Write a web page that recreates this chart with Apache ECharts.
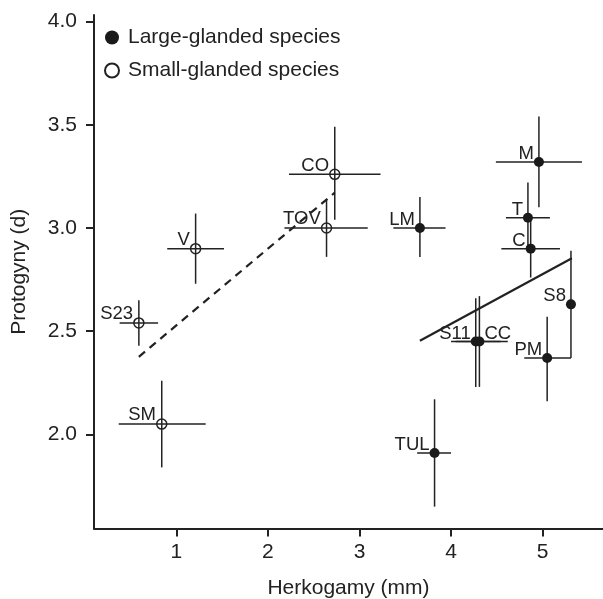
<!DOCTYPE html>
<html>
<head>
<meta charset="utf-8">
<script src="https://cdn.jsdelivr.net/npm/echarts@6/dist/echarts.min.js"></script>
<style>html,body{margin:0;padding:0;background:#fff}#c{width:603px;height:599px}</style>
</head>
<body>
<div id="c"></div>
<script>
// ---- data ----
const largeNames = ['M', 'T', 'C', 'LM', 'S8', 'PM', 'S11', 'CC', 'TUL'];
const largeX     = [4.96, 4.84, 4.87, 3.66, 5.31, 5.05, 4.27, 4.31, 3.82];
const largeY     = [3.32, 3.05, 2.90, 3.00, 2.63, 2.37, 2.45, 2.45, 1.91];
const largeXLo   = [4.49, 4.60, 4.55, 3.37, 5.28, 4.80, 4.00, 4.05, 3.63];
const largeXHi   = [5.43, 5.08, 5.19, 3.94, 5.34, 5.31, 4.54, 4.62, 4.00];
const largeYLo   = [3.10, 2.90, 2.76, 2.86, 2.37, 2.16, 2.23, 2.23, 1.65];
const largeYHi   = [3.54, 3.22, 3.05, 3.15, 2.89, 2.57, 2.66, 2.67, 2.17];

const smallNames = ['CO', 'TOV', 'V', 'S23', 'SM'];
const smallX     = [2.73, 2.64, 1.21, 0.59, 0.84];
const smallY     = [3.26, 3.00, 2.90, 2.54, 2.05];
const smallXLo   = [2.23, 2.18, 0.90, 0.38, 0.37];
const smallXHi   = [3.23, 3.09, 1.52, 0.80, 1.32];
const smallYLo   = [3.04, 2.86, 2.73, 2.43, 1.84];
const smallYHi   = [3.49, 3.14, 3.07, 2.65, 2.26];

const smallFit = [[0.59, 2.376], [2.73, 3.171]];
const largeFit = [[3.66, 2.454], [5.32, 2.853]];

const xTicks = [1, 2, 3, 4, 5];
const yTicks = [2.0, 2.5, 3.0, 3.5, 4.0];

const legendNames = ['Large-glanded species', 'Small-glanded species'];
const xTitle = 'Herkogamy (mm)';
const yTitle = 'Protogyny (d)';

// ---- build ----
const INK = '#222';
const FONT = '"Liberation Sans", Arial, Helvetica, sans-serif';
const rightLabels = ['CC'];

function pts(names, xs, ys) {
  return names.map((n, i) => {
    const d = { name: n, value: [xs[i], ys[i]] };
    if (rightLabels.includes(n)) {
      d.label = { position: [10, 6.5], align: 'left' };
    }
    return d;
  });
}
function bars(xs, ys, xlo, xhi, ylo, yhi) {
  return xs.map((x, i) => [x, ys[i], xlo[i], xhi[i], ylo[i], yhi[i]]);
}
function renderBar(params, api) {
  const x = api.value(0), y = api.value(1);
  const a = api.coord([api.value(2), y]);
  const b = api.coord([api.value(3), y]);
  const c = api.coord([x, api.value(4)]);
  const d = api.coord([x, api.value(5)]);
  const st = { stroke: INK, lineWidth: 1.5, fill: null };
  return {
    type: 'group',
    children: [
      { type: 'line', shape: { x1: a[0], y1: a[1], x2: b[0], y2: b[1] }, style: st },
      { type: 'line', shape: { x1: c[0], y1: c[1], x2: d[0], y2: d[1] }, style: st }
    ]
  };
}
const labelCfg = {
  show: true,
  formatter: p => p.name,
  position: [0, 6.5],
  align: 'right',
  verticalAlign: 'bottom',
  color: INK,
  fontSize: 18.5,
  fontFamily: FONT
};

const chart = echarts.init(document.getElementById('c'), null, { renderer: 'canvas' });
chart.setOption({
  animation: false,
  backgroundColor: '#fff',
  textStyle: { fontFamily: FONT, color: INK },
  grid: { left: 94, right: 0, top: 15, bottom: 70.5, containLabel: false, outerBoundsMode: 'none' },
  legend: {
    orient: 'vertical',
    left: 99,
    top: 22,
    itemWidth: 14,
    itemHeight: 14,
    itemGap: 12,
    data: legendNames,
    textStyle: { fontSize: 21, color: INK, fontFamily: FONT, lineHeight: 21, padding: [0, 0, 0, 4] }
  },
  xAxis: {
    type: 'value',
    min: 0.1,
    max: 5.66,
    name: xTitle,
    nameLocation: 'middle',
    nameGap: 49,
    nameTextStyle: { fontSize: 21, color: INK, fontFamily: FONT },
    axisLine: { lineStyle: { color: INK, width: 2 } },
    axisTick: { show: true, length: 8, lineStyle: { color: INK, width: 2 }, customValues: xTicks },
    axisLabel: { customValues: xTicks, fontSize: 21, color: INK, fontFamily: FONT, margin: 13 },
    splitLine: { show: false }
  },
  yAxis: {
    type: 'value',
    min: 1.544,
    max: 4.032,
    name: yTitle,
    nameLocation: 'middle',
    nameGap: 64,
    nameTextStyle: { fontSize: 21, color: INK, fontFamily: FONT },
    axisLine: { show: true, lineStyle: { color: INK, width: 2 } },
    axisTick: { show: true, length: 8, lineStyle: { color: INK, width: 2 }, customValues: yTicks },
    axisLabel: { customValues: yTicks, fontSize: 21, color: INK, fontFamily: FONT, margin: 17,
      formatter: v => Number(v).toFixed(1) },
    splitLine: { show: false }
  },
  series: [
    {
      type: 'line', data: smallFit, symbol: 'none', silent: true,
      lineStyle: { color: INK, width: 2.2, type: [8, 6] }, z: 1
    },
    {
      type: 'line', data: largeFit, symbol: 'none', silent: true,
      lineStyle: { color: INK, width: 2.2 }, z: 1
    },
    {
      type: 'custom', renderItem: renderBar, silent: true, z: 2,
      data: bars(largeX, largeY, largeXLo, largeXHi, largeYLo, largeYHi)
    },
    {
      type: 'custom', renderItem: renderBar, silent: true, z: 2,
      data: bars(smallX, smallY, smallXLo, smallXHi, smallYLo, smallYHi)
    },
    {
      name: legendNames[0], type: 'scatter', symbol: 'circle', symbolSize: 10, z: 3,
      itemStyle: { color: '#1a1a1a', opacity: 1 },
      label: labelCfg,
      data: pts(largeNames, largeX, largeY)
    },
    {
      name: legendNames[1], type: 'scatter', symbol: 'circle', symbolSize: 10, z: 3,
      itemStyle: { color: 'rgba(255,255,255,0)', borderColor: INK, borderWidth: 1.5, opacity: 1 },
      label: labelCfg,
      data: pts(smallNames, smallX, smallY)
    }
  ]
});
</script>
</body>
</html>
